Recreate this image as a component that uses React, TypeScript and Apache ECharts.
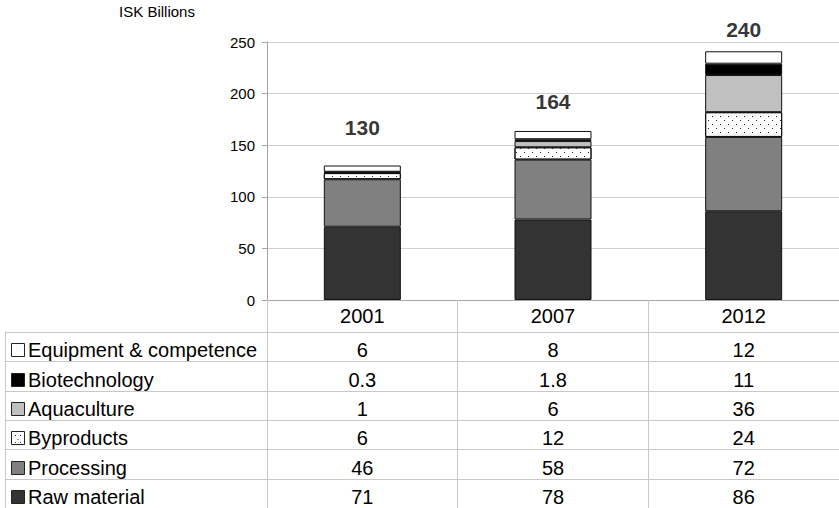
import React, { useEffect, useRef } from 'react';
import * as echarts from 'echarts';

const categories = ['2001', '2007', '2012'];
const rawMaterial = [71, 78, 86];
const processing = [46, 58, 72];
const byproducts = [6, 12, 24];
const aquaculture = [1, 6, 36];
const biotechnology = [0.3, 1.8, 11];
const equipment = [6, 8, 12];
const totals = [130, 164, 240];
const yAxisTitle = 'ISK Billions';
const yMin = 0;
const yMax = 250;
const yInterval = 50;

const FONT = '"Liberation Sans", Arial, Helvetica, sans-serif';

type SeriesDef = { name: string; data: number[]; color: string; dotted?: boolean };

// bottom to top stacking order
const seriesDefs: SeriesDef[] = [
  { name: 'Raw material', data: rawMaterial, color: '#333333' },
  { name: 'Processing', data: processing, color: '#808080' },
  { name: 'Byproducts', data: byproducts, color: '#ffffff', dotted: true },
  { name: 'Aquaculture', data: aquaculture, color: '#c0c0c0' },
  { name: 'Biotechnology', data: biotechnology, color: '#000000' },
  { name: 'Equipment & competence', data: equipment, color: '#ffffff' },
];

// layout (pixels)
const W = 839;
const H = 508;
const GRID_LEFT = 267;
const GRID_TOP = 42;
const GRID_BOTTOM = 208;
const GRID_RIGHT = -6;
const TABLE_LEFT = 5;
const HEADER_BOTTOM = 332;
const TABLE_RIGHT = 845;
const totalLabelLift = [38, 29, 23];

const dotDecal = {
  symbol: 'rect',
  symbolSize: 1,
  symbolKeepAspect: false,
  color: '#222222',
  dashArrayX: [[1, 7], [0, 4, 1, 3]],
  dashArrayY: [1, 3],
  rotation: 0,
};

export default function App() {
  const ref = useRef<HTMLDivElement>(null);

  useEffect(() => {
    if (!ref.current) return;
    const chart = echarts.init(ref.current, undefined, { renderer: 'svg', width: W, height: H });

    const barSeries = seriesDefs.map((s) => ({
      name: s.name,
      type: 'bar',
      stack: 'total',
      barWidth: 77,
      data: s.data,
      itemStyle: {
        color: s.color,
        borderColor: '#111111',
        borderWidth: 1,
        ...(s.dotted ? { decal: dotDecal } : {}),
      },
      emphasis: { disabled: true },
    }));

    const option: any = {
      animation: false,
      backgroundColor: '#ffffff',
      textStyle: { fontFamily: FONT },
      grid: { left: GRID_LEFT, top: GRID_TOP, right: GRID_RIGHT, bottom: GRID_BOTTOM, containLabel: false },
      xAxis: {
        type: 'category',
        data: categories,
        boundaryGap: true,
        axisLine: { show: true, lineStyle: { color: '#a6a6a6', width: 1 } },
        axisTick: {
          show: true,
          alignWithLabel: false,
          interval: 0,
          length: GRID_BOTTOM,
          lineStyle: { color: '#c8c8c8', width: 1 },
        },
        axisLabel: { fontSize: 20, margin: 6, color: '#000000', fontFamily: FONT, interval: 0 },
        splitLine: { show: false },
      },
      yAxis: {
        type: 'value',
        min: yMin,
        max: yMax,
        interval: yInterval,
        axisLine: { show: true, lineStyle: { color: '#a6a6a6', width: 1 } },
        axisTick: { show: true, length: 5, lineStyle: { color: '#a6a6a6' } },
        axisLabel: { fontSize: 15, margin: 12, color: '#000000', fontFamily: FONT },
        splitLine: { show: true, lineStyle: { color: '#d0d0d0', width: 1 } },
      },
      series: [
        ...barSeries,
        {
          name: 'Total',
          type: 'scatter',
          data: totals.map((v, i) => ({ value: v, label: { offset: [0, -(totalLabelLift[i] - 11)] } })),
          symbolSize: 1,
          itemStyle: { color: 'rgba(255,255,255,0)' },
          label: {
            show: true,
            position: 'top',
            distance: 0,
            fontSize: 21,
            fontWeight: 'bold',
            color: '#000000',
            textBorderWidth: 0,
            fontFamily: FONT,
          },
          silent: true,
          z: 10,
        },
      ],
    };

    chart.setOption(option);

    // Build data table below the axis
    const rows = [...seriesDefs].reverse();
    const rowH = (H - HEADER_BOTTOM) / rows.length;
    const elements: any[] = [];

    elements.push({
      type: 'text',
      x: 157,
      y: 11,
      style: { text: yAxisTitle, font: `15px ${FONT}`, fill: '#000000', align: 'center', verticalAlign: 'middle' },
    });

    // left border
    elements.push({
      type: 'line',
      shape: { x1: TABLE_LEFT + 0.5, y1: HEADER_BOTTOM, x2: TABLE_LEFT + 0.5, y2: H },
      style: { stroke: '#c8c8c8', lineWidth: 1 },
    });

    rows.forEach((s, r) => {
      const top = HEADER_BOTTOM + r * rowH;
      const yLine = Math.round(top) + 0.5;
      elements.push({
        type: 'line',
        shape: { x1: TABLE_LEFT, y1: yLine, x2: TABLE_RIGHT, y2: yLine },
        style: { stroke: '#c8c8c8', lineWidth: 1 },
      });
      const cy = top + rowH / 2 + 3.5;
      // legend key
      elements.push({
        type: 'rect',
        shape: { x: 11.5, y: Math.round(cy - 7) + 0.5, width: 13, height: 13 },
        style: { fill: s.color, stroke: '#222222', lineWidth: 1 },
      });
      if (s.dotted) {
        [[15, 4], [20, 4], [17.5, 8], [15, 11], [20, 11]].forEach(([dx, dy]) => {
          elements.push({
            type: 'rect',
            shape: { x: dx, y: Math.round(cy - 7) + dy, width: 1, height: 1 },
            style: { fill: '#333333' },
          });
        });
      }
      elements.push({
        type: 'text',
        x: 28,
        y: cy,
        style: { text: s.name, font: `20px ${FONT}`, fill: '#000000', align: 'left', verticalAlign: 'middle' },
      });
      s.data.forEach((v, j) => {
        const px = chart.convertToPixel({ xAxisIndex: 0 }, categories[j]) as number;
        elements.push({
          type: 'text',
          x: px,
          y: cy,
          style: { text: String(v), font: `20px ${FONT}`, fill: '#000000', align: 'center', verticalAlign: 'middle' },
        });
      });
    });

    chart.setOption({ graphic: { elements } });

    return () => {
      chart.dispose();
    };
  }, []);

  return (
    <div
      ref={ref}
      style={{ position: 'fixed', left: 0, top: 0, width: W, height: H, overflow: 'hidden', background: '#fff' }}
    />
  );
}
